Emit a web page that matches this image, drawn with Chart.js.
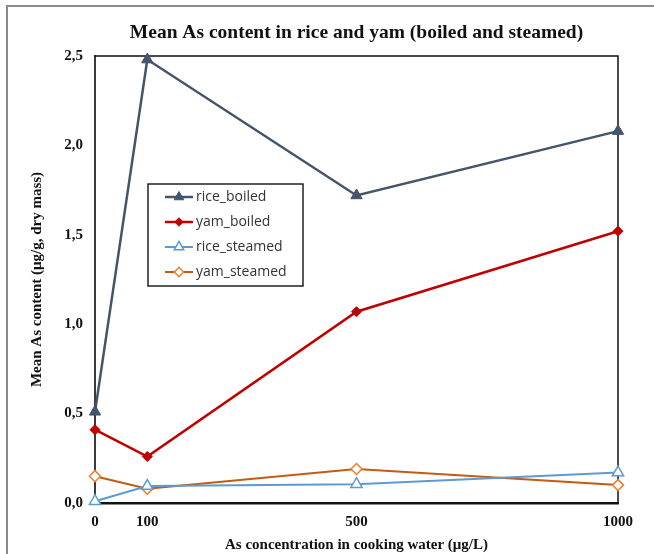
<!DOCTYPE html>
<html>
<head>
<meta charset="utf-8">
<script src="https://cdn.jsdelivr.net/npm/chart.js@4/dist/chart.umd.min.js"></script>
<style>
  html, body { margin: 0; padding: 0; background: #fff; }
  #wrap { width: 654px; height: 554px; position: relative; }
</style>
</head>
<body>
<div id="wrap"><canvas id="c" width="654" height="554"></canvas></div>
<script>
// Arsenic concentration in cooking water (µg/L)
const concentrations = [0, 100, 500, 1000];
// Mean As content (µg/g, dry mass)
const riceBoiled  = [0.51, 2.48, 1.72, 2.08];
const yamBoiled   = [0.41, 0.26, 1.07, 1.52];
const riceSteamed = [0.01, 0.095, 0.105, 0.17];
const yamSteamed  = [0.15, 0.08, 0.19, 0.10];
const xTickValues = [0, 100, 500, 1000];

const serif = '"Liberation Serif", "Times New Roman", serif';
const pts = vals => vals.map((v, i) => ({ x: concentrations[i], y: v }));

// White background and the thin outer frame
const framePlugin = {
  id: 'frame',
  beforeDraw(chart) {
    const ctx = chart.ctx;
    ctx.save();
    ctx.fillStyle = '#fff';
    ctx.fillRect(0, 0, chart.width, chart.height);
    ctx.strokeStyle = '#8a8a8a';
    ctx.lineWidth = 2;
    ctx.beginPath();
    ctx.moveTo(7, chart.height + 2);
    ctx.lineTo(7, 6);
    ctx.lineTo(chart.width + 2, 6);
    ctx.stroke();
    ctx.restore();
  },
  beforeDatasetsDraw(chart) {
    // top and right edges of the plot box
    const { left, right, top, bottom } = chart.chartArea;
    const ctx = chart.ctx;
    ctx.save();
    ctx.strokeStyle = '#111';
    ctx.lineWidth = 1.5;
    ctx.beginPath();
    ctx.moveTo(left, top);
    ctx.lineTo(right, top);
    ctx.lineTo(right, bottom);
    ctx.stroke();
    ctx.restore();
  }
};

// Boxed legend placed inside the plot area
const boxLegend = {
  id: 'boxLegend',
  afterDatasetsDraw(chart) {
    const ctx = chart.ctx;
    const x0 = 148, y0 = 184, w = 155, h = 102;
    ctx.save();
    ctx.fillStyle = '#fff';
    ctx.fillRect(x0, y0, w, h);
    ctx.strokeStyle = '#222';
    ctx.lineWidth = 1.5;
    ctx.strokeRect(x0, y0, w, h);
    chart.data.datasets.forEach((ds, i) => {
      const y = y0 + 13 + i * 25;
      ctx.strokeStyle = ds.borderColor;
      ctx.lineWidth = ds.borderWidth;
      ctx.beginPath();
      ctx.moveTo(x0 + 17, y);
      ctx.lineTo(x0 + 45, y);
      ctx.stroke();
      ctx.fillStyle = ds.pointBackgroundColor;
      ctx.strokeStyle = ds.pointBorderColor;
      ctx.lineWidth = ds.pointBorderWidth;
      Chart.helpers.drawPoint(ctx, {
        pointStyle: ds.pointStyle,
        radius: ds.pointRadius * 0.85,
        rotation: 0,
        borderWidth: ds.pointBorderWidth
      }, x0 + 31, y);
      ctx.fillStyle = '#333';
      ctx.font = '14px "Open Sans", "Liberation Sans", sans-serif';
      ctx.textBaseline = 'middle';
      ctx.textAlign = 'left';
      ctx.fillText(ds.label, x0 + 48, y);
    });
    ctx.restore();
  }
};

new Chart(document.getElementById('c'), {
  type: 'line',
  data: {
    datasets: [
      {
        label: 'rice_boiled', data: pts(riceBoiled),
        borderColor: '#44546A', borderWidth: 2.5,
        pointStyle: 'triangle', pointRadius: 6.5,
        pointBackgroundColor: '#44546A', pointBorderColor: '#44546A', pointBorderWidth: 1,
        clip: false, tension: 0
      },
      {
        label: 'yam_boiled', data: pts(yamBoiled),
        borderColor: '#C00000', borderWidth: 2.5,
        pointStyle: 'rectRot', pointRadius: 5,
        pointBackgroundColor: '#C00000', pointBorderColor: '#C00000', pointBorderWidth: 1,
        clip: false, tension: 0
      },
      {
        label: 'rice_steamed', data: pts(riceSteamed),
        borderColor: '#5B9BD5', borderWidth: 2,
        pointStyle: 'triangle', pointRadius: 6.5,
        pointBackgroundColor: '#fff', pointBorderColor: '#5B9BD5', pointBorderWidth: 1.5,
        clip: false, tension: 0
      },
      {
        label: 'yam_steamed', data: pts(yamSteamed),
        borderColor: '#C55A11', borderWidth: 2,
        pointStyle: 'rectRot', pointRadius: 5.5,
        pointBackgroundColor: '#fff', pointBorderColor: '#ED7D31', pointBorderWidth: 1.5,
        clip: false, tension: 0
      }
    ]
  },
  options: {
    responsive: false,
    animation: false,
    layout: { padding: { left: 0, right: 36, top: 0, bottom: 0 } },
    plugins: {
      legend: { display: false },
      tooltip: { enabled: false },
      title: {
        display: true,
        fullSize: false,
        text: 'Mean As content in rice and yam (boiled and steamed)',
        color: '#111',
        font: { family: serif, size: 19.5, weight: 'bold', lineHeight: 1.2 },
        padding: { top: 21.3, bottom: 11.3 }
      }
    },
    scales: {
      x: {
        type: 'linear',
        min: 0, max: 1000,
        afterBuildTicks(scale) { scale.ticks = xTickValues.map(v => ({ value: v })); },
        afterFit(scale) { scale.height = 51; },
        grid: { display: false, drawTicks: false },
        border: { display: true, color: '#111', width: 2.5 },
        ticks: {
          autoSkip: false, maxRotation: 0, padding: 10,
          color: '#111',
          font: { family: serif, size: 15, weight: 'bold' },
          callback: v => String(v)
        },
        title: {
          display: true,
          text: 'As concentration in cooking water (μg/L)',
          color: '#111',
          font: { family: serif, size: 15, weight: 'bold', lineHeight: 1.2 },
          padding: { top: 0, bottom: 0 }
        }
      },
      y: {
        min: 0, max: 2.5,
        afterFit(scale) { scale.width = 95; },
        grid: { display: false, drawTicks: false },
        border: { display: true, color: '#3a3a3a', width: 2 },
        ticks: {
          stepSize: 0.5, padding: 12,
          color: '#111',
          font: { family: serif, size: 15, weight: 'bold' },
          callback: v => v.toFixed(1).replace('.', ',')
        },
        title: {
          display: true,
          text: 'Mean As content (μg/g, dry mass)',
          color: '#111',
          font: { family: serif, size: 15, weight: 'bold', lineHeight: 1.2 },
          padding: { top: 28, bottom: 0 }
        }
      }
    }
  },
  plugins: [framePlugin, boxLegend]
});
</script>
</body>
</html>
